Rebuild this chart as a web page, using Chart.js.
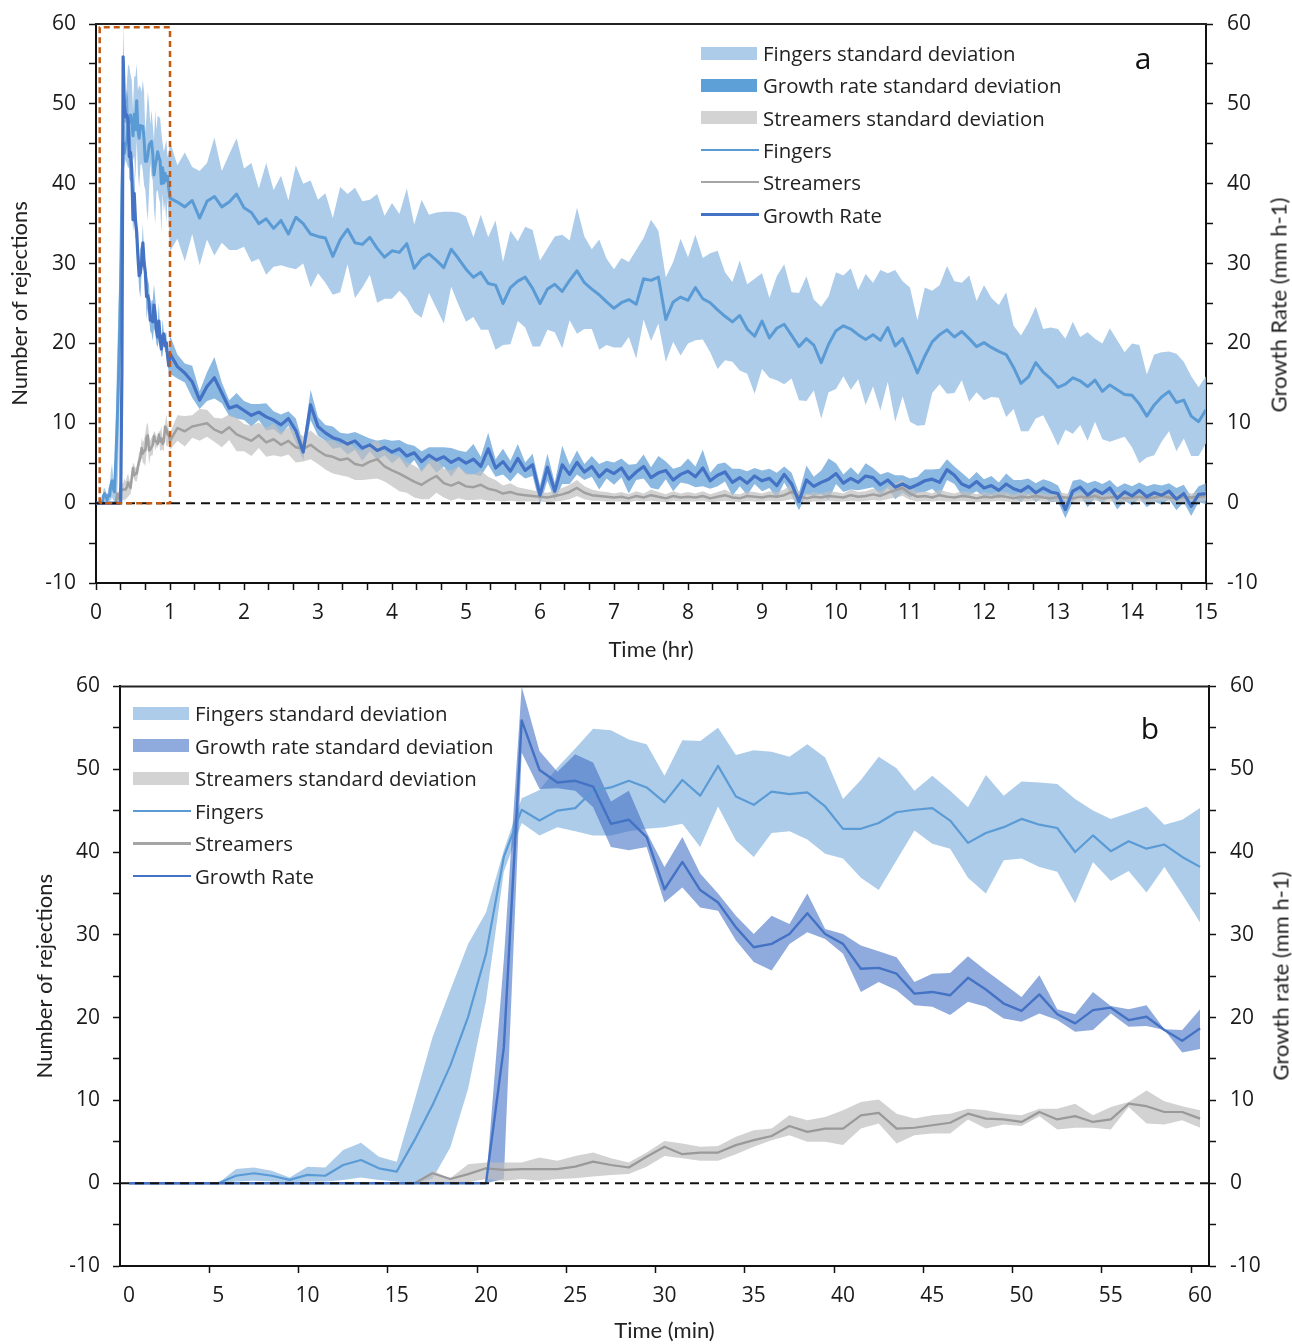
<!DOCTYPE html>
<html>
<head>
<meta charset="utf-8">
<script src="https://cdn.jsdelivr.net/npm/chart.js@4.4.1/dist/chart.umd.min.js"></script>
<style>
  body { margin: 0; background: #fff; overflow: hidden; }
  #wrap { position: relative; width: 1292px; height: 1344px; }
  .panel { position: absolute; left: 0; width: 1292px; }
  .leg { position: absolute; display: flex; align-items: center; transform: translateY(-50%);
         font-family: "Open Sans", sans-serif; font-size: 20.4px; line-height: 28px; color: #222; white-space: nowrap; }
  .sw { display: inline-block; margin-right: 6px; }
  .letter { position: absolute; font-family: "Open Sans", sans-serif; font-size: 30px; color: #111;
            transform: translate(-50%, -50%); }
  .rtitle { position: absolute; font-family: Lato, sans-serif; font-size: 22px; color: #222; white-space: nowrap;
            transform: translate(-50%, -50%) rotate(-90deg); }
</style>
</head>
<body>
<div id="wrap">
  <div class="panel" style="top:0;height:668px"><canvas id="chartA"></canvas></div>
  <div class="panel" style="top:664px;height:680px"><canvas id="chartB"></canvas></div>
  <div class="letter" style="left:1143px;top:57px">a</div>
  <div class="letter" style="left:1150px;top:727px">b</div>
  <div class="rtitle" style="left:1278px;top:305px">Growth Rate (mm h-1)</div>
  <div class="rtitle" style="left:1280px;top:976px">Growth rate (mm h-1)</div>
</div>
<script>
// ---------- panel b: first hour, one value per minute ----------
const minutesB = Array.from({length: 61}, (_, i) => i);

const fingersB = [
  0, 0, 0, 0, 0, 0, 0.9, 1.2, 0.9, 0.4,
  1.0, 0.9, 2.2, 2.8, 1.8, 1.4, 5.2, 9.4, 14.2, 20.1,
  27.7, 39.4, 45.1, 43.8, 45.0, 45.3, 47.4, 47.8, 48.6, 47.8,
  46.0, 48.7, 46.8, 50.4, 46.7, 45.7, 47.3, 47.0, 47.2, 45.5,
  42.8, 42.8, 43.5, 44.8, 45.1, 45.3, 43.8, 41.1, 42.3, 43.0,
  44.0, 43.3, 42.9, 40.0, 42.0, 40.1, 41.3, 40.4, 40.9, 39.4,
  38.2
];
const fingersLoB = [
  0, 0, 0, 0, 0, 0, 0.2, 0.3, 0.2, 0.1,
  0.2, 0.2, 0.4, 0.7, 0.4, 0.2, 0, 0.5, 4.3, 11.4,
  22.0, 37.6, 43.5, 42.0, 43.0, 42.5, 42.0, 42.0, 42.5, 42.8,
  43.0, 43.4, 40.6, 45.5, 41.4, 39.4, 42.3, 42.5, 41.5, 39.8,
  39.2, 36.9, 35.4, 39.0, 42.6, 41.0, 40.4, 36.9, 35.0, 39.0,
  39.2, 38.2, 37.6, 33.8, 38.8, 36.5, 37.7, 35.1, 38.2, 34.9,
  31.5
];
const fingersHiB = [
  0, 0, 0, 0, 0, 0, 1.7, 1.9, 1.5, 0.7,
  2.0, 1.9, 4.0, 4.9, 3.2, 2.6, 10.0, 17.6, 23.3, 28.9,
  32.7, 40.2, 46.5, 47.5, 50.2, 52.5, 54.9, 54.7, 53.6, 53.0,
  49.2, 53.5, 53.4, 55.0, 51.7, 52.3, 52.1, 51.5, 53.0, 51.4,
  46.4, 48.7, 51.5, 50.1, 47.4, 49.2, 47.4, 45.4, 49.3, 46.8,
  48.5, 48.4, 48.2, 46.4, 45.0, 44.0, 44.7, 45.5, 43.3, 43.9,
  45.3
];
const growthB = [
  0, 0, 0, 0, 0, 0, 0, 0, 0, 0,
  0, 0, 0, 0, 0, 0, 0, 0, 0, 0,
  0, 16.4, 55.9, 49.9, 48.4, 48.6, 47.9, 43.4, 43.9, 41.8,
  35.5, 38.8, 35.4, 33.9, 30.9, 28.5, 28.9, 30.1, 32.6, 30.1,
  28.9, 25.9, 26.0, 25.3, 22.9, 23.1, 22.7, 24.8, 23.4, 21.7,
  20.8, 22.8, 20.4, 19.3, 20.9, 21.2, 19.7, 20.1, 18.5, 17.2,
  18.7
];
const growthLoB = [
  0, 0, 0, 0, 0, 0, 0, 0, 0, 0,
  0, 0, 0, 0, 0, 0, 0, 0, 0, 0,
  0, 0.5, 52.0, 47.6, 47.7, 47.4, 45.4, 40.6, 40.2, 40.6,
  33.9, 35.7, 33.3, 32.9, 29.3, 26.7, 25.7, 28.9, 30.3, 29.5,
  27.7, 23.1, 24.3, 23.3, 21.5, 21.3, 20.3, 21.9, 21.3, 19.9,
  19.5, 20.5, 19.7, 18.3, 18.5, 20.5, 18.9, 19.0, 18.5, 15.8,
  16.2
];
const growthHiB = [
  0, 0, 0, 0, 0, 0, 0, 0, 0, 0,
  0, 0, 0, 0, 0, 0, 0, 0, 0, 0,
  0, 27.0, 60.0, 52.2, 49.7, 51.8, 50.8, 46.1, 47.4, 42.4,
  38.2, 41.8, 37.4, 35.0, 32.3, 30.1, 32.3, 31.3, 35.0, 30.7,
  30.1, 28.7, 28.0, 27.3, 24.3, 25.3, 25.4, 27.4, 25.7, 24.1,
  22.5, 25.1, 21.0, 20.4, 23.1, 21.4, 21.0, 21.5, 18.6, 18.5,
  21.0
];
const streamB = [
  0, 0, 0, 0, 0, 0, 0, 0, 0, 0,
  0, 0, 0, 0, 0, 0, 0, 1.2, 0.5, 1.1,
  1.8, 1.6, 1.7, 1.7, 1.7, 2.0, 2.6, 2.2, 1.9, 3.2,
  4.4, 3.5, 3.7, 3.7, 4.6, 5.2, 5.7, 6.9, 6.2, 6.6,
  6.6, 8.2, 8.5, 6.6, 6.7, 7.0, 7.3, 8.4, 7.8, 7.7,
  7.4, 8.6, 7.7, 8.1, 7.4, 7.7, 9.6, 9.3, 8.6, 8.6,
  7.8
];
const streamLoB = [
  0, 0, 0, 0, 0, 0, 0, 0, 0, 0,
  0, 0, 0, 0, 0, 0, 0, 0, 0, 0.1,
  0.5, 0.3, 0.5, 0.3, 0.5, 0.6, 0.8, 1.0, 1.1, 2.0,
  3.3, 3.0, 2.7, 2.7, 3.5, 4.4, 5.2, 5.8, 5.0, 5.0,
  4.6, 6.6, 7.2, 4.8, 5.8, 6.0, 6.0, 7.7, 6.6, 7.1,
  6.9, 8.1, 6.5, 6.7, 6.7, 6.5, 9.2, 7.2, 7.1, 7.6,
  6.7
];
const streamHiB = [
  0, 0, 0, 0, 0, 0, 0, 0, 0, 0,
  0, 0, 0, 0, 0, 0, 0, 1.5, 0.6, 2.3,
  2.5, 2.5, 2.5, 3.1, 2.7, 3.3, 3.7, 3.0, 2.5, 3.7,
  5.1, 4.8, 4.4, 4.5, 5.6, 6.4, 6.6, 8.2, 7.6, 8.0,
  8.8, 9.8, 10.1, 8.4, 7.8, 8.2, 8.4, 9.0, 8.8, 8.4,
  8.2, 9.0, 9.0, 9.6, 8.2, 9.2, 9.8, 11.2, 9.9, 9.3,
  8.8
];

// ---------- panel a: after the first hour, one value every 0.1 hr (1.1 .. 15.0) ----------
const hoursA = Array.from({length: 140}, (_, i) => (11 + i) / 10);

const fingersA = [
  37.7, 37.1, 37.9, 35.7, 37.8, 38.4, 37.1, 37.7, 38.7, 37.0,
  36.4, 35.0, 35.6, 34.4, 35.4, 33.7, 35.8, 35.0, 33.7, 33.4,
  33.2, 30.9, 33.0, 34.3, 32.6, 32.4, 33.3, 31.9, 30.8, 31.6,
  31.4, 32.5, 29.4, 30.6, 31.2, 30.4, 29.5, 31.8, 30.6, 29.3,
  28.3, 28.9, 27.5, 27.3, 25.0, 27.0, 27.8, 28.3, 26.9, 25.0,
  26.8, 27.4, 26.5, 27.9, 29.1, 27.6, 26.8, 26.1, 25.2, 24.4,
  25.1, 25.5, 24.9, 28.1, 27.9, 28.3, 23.0, 25.2, 25.8, 25.4,
  27.0, 25.6, 25.1, 24.2, 23.4, 22.7, 23.5, 21.8, 20.9, 22.8,
  20.7, 21.9, 22.4, 21.0, 19.6, 20.6, 19.8, 17.6, 19.9, 21.6,
  22.2, 21.8, 21.1, 20.5, 21.1, 20.4, 22.0, 19.7, 20.6, 18.6,
  16.3, 18.4, 20.2, 21.1, 21.7, 20.8, 21.5, 20.6, 19.6, 20.1,
  19.5, 19.0, 18.6, 17.0, 15.0, 15.8, 17.6, 16.4, 15.6, 14.5,
  14.9, 15.7, 15.3, 14.6, 15.4, 14.0, 14.8, 14.2, 13.6, 13.5,
  12.4, 10.9, 12.3, 13.3, 14.0, 12.6, 12.9, 10.9, 10.2, 11.7
];
const fingersSdA = [
  4.6, 6.8, 4.2, 5.9, 4.8, 7.4, 4.5, 6.0, 7.0, 4.9,
  6.2, 4.4, 7.0, 4.8, 5.6, 4.2, 6.5, 5.0, 6.7, 4.6,
  5.6, 4.8, 6.6, 4.4, 6.9, 5.4, 4.7, 6.8, 5.2, 6.0,
  4.8, 6.9, 5.5, 7.4, 4.9, 6.0, 7.0, 4.7, 5.8, 6.6,
  5.0, 7.2, 5.8, 8.1, 5.2, 7.1, 5.0, 6.3, 7.3, 5.4,
  5.1, 6.0, 7.1, 5.0, 7.9, 5.8, 5.0, 6.9, 5.4, 4.9,
  5.6, 4.7, 6.8, 5.1, 7.6, 5.8, 5.3, 5.0, 7.3, 5.4,
  6.6, 5.1, 6.2, 7.4, 5.5, 5.0, 6.9, 5.6, 7.2, 6.0,
  5.0, 6.5, 7.5, 5.4, 6.7, 7.8, 5.7, 7.0, 6.0, 7.3,
  6.3, 7.6, 5.6, 8.2, 6.5, 8.8, 6.8, 9.5, 7.2, 8.4,
  6.6, 8.6, 6.4, 6.2, 8.0, 7.0, 6.1, 7.9, 5.7, 7.2,
  6.2, 5.8, 7.8, 5.2, 6.0, 6.8, 7.0, 5.4, 6.4, 7.3,
  5.7, 7.0, 5.5, 6.8, 5.2, 6.0, 7.1, 6.2, 5.3, 6.5,
  7.4, 5.2, 6.3, 5.6, 5.0, 6.1, 4.8, 5.0, 4.3, 4.2
];
const growthA = [
  17.1, 16.3, 15.2, 12.9, 14.6, 15.7, 13.8, 11.9, 12.2, 11.6,
  11.0, 11.4, 10.8, 10.4, 9.8, 10.6, 9.1, 6.4, 12.3, 9.6,
  8.8, 8.2, 7.9, 7.4, 7.8, 6.9, 7.3, 6.6, 7.0, 6.4,
  6.8, 5.9, 6.3, 5.2, 6.0, 5.4, 5.8, 5.1, 5.6, 5.0,
  5.5, 4.6, 6.8, 4.4, 5.2, 4.0, 5.6, 4.1, 4.8, 1.0,
  4.5, 1.5, 4.8, 3.6, 5.1, 3.9, 4.6, 3.3, 4.2, 3.7,
  4.4, 3.0, 3.9, 4.6, 3.2, 3.8, 4.1, 2.9, 3.6, 4.0,
  3.3, 4.4, 2.8, 3.5, 3.9, 2.6, 3.2, 2.5, 3.4, 2.8,
  3.1, 2.2, 3.6, 2.4, 0.2, 2.9, 2.1, 2.6, 3.0, 3.7,
  2.5, 3.1, 2.6, 3.4, 3.2, 2.3, 2.9, 2.0, 2.4, 1.9,
  2.3, 2.8, 3.0, 2.6, 4.2, 3.5, 2.4, 2.0, 2.7, 1.9,
  2.2, 1.6, 2.4, 1.8, 1.5, 2.1, 1.3, 1.9, 1.4, 1.2,
  -0.8, 1.5, 2.0, 1.0, 1.7, 1.2, 1.9, 0.6, 1.4, 0.9,
  1.6, 0.8, 1.3, 1.0, 1.5, 0.5, 1.2, -0.4, 1.1, 1.2
];
const growthSdA = [
  1.5, 1.2, 2.0, 1.1, 1.8, 2.6, 1.3, 1.0, 1.6, 1.2,
  1.4, 1.0, 1.7, 1.1, 1.3, 0.9, 1.5, 1.0, 1.9, 1.2,
  1.0, 1.4, 0.9, 1.3, 1.1, 1.6, 0.8, 1.2, 1.0, 1.4,
  1.1, 1.5, 0.9, 1.3, 1.0, 1.6, 1.2, 1.8, 1.0, 1.4,
  1.9, 1.2, 2.0, 1.1, 1.6, 1.3, 1.8, 1.0, 1.4, 1.2,
  1.7, 1.1, 2.4, 1.2, 1.5, 1.0, 1.3, 1.6, 1.1, 1.4,
  1.2, 1.8, 1.0, 1.5, 1.3, 2.1, 1.1, 1.4, 1.0, 1.6,
  1.3, 2.3, 1.0, 1.4, 1.2, 1.7, 1.1, 1.5, 1.0, 1.3,
  1.2, 1.6, 1.0, 1.4, 1.1, 1.8, 1.2, 1.5, 2.6, 1.3,
  1.1, 1.4, 1.0, 1.6, 1.2, 1.3, 1.0, 1.5, 1.1, 1.2,
  1.0, 1.4, 1.2, 1.7, 1.3, 1.1, 1.4, 1.0, 1.2, 1.1,
  1.2, 1.0, 1.3, 1.1, 1.4, 1.0, 1.2, 1.1, 1.3, 1.0,
  1.1, 1.3, 1.0, 1.5, 1.1, 1.2, 1.0, 1.4, 1.1, 1.2,
  1.0, 1.3, 1.1, 1.2, 1.0, 1.4, 1.1, 1.2, 1.0, 1.3
];
const streamA = [
  9.4, 9.0, 9.6, 9.8, 10.0, 9.2, 8.8, 9.5, 8.6, 8.2,
  7.8, 8.5, 7.6, 8.0, 7.3, 7.8, 7.0, 6.8, 7.3, 6.6,
  6.0, 5.8, 5.4, 5.6, 4.9, 4.7, 5.2, 5.5, 4.6, 4.1,
  3.7, 3.2, 2.7, 2.3, 2.9, 3.4, 2.5, 2.2, 2.6, 2.1,
  2.0, 2.3, 1.8, 1.6, 1.2, 1.4, 1.1, 1.0, 0.9, 0.8,
  0.7, 0.9, 1.1, 1.4, 1.9, 1.3, 1.0, 0.9, 0.8, 0.7,
  0.8, 0.6, 0.9, 0.7, 1.0, 0.8, 0.6, 0.9, 0.7, 0.8,
  0.7, 0.9, 0.6, 0.8, 1.0, 0.7, 0.6, 0.9, 0.8, 0.7,
  0.9, 0.8, 1.0, 1.4, 0.9, 0.6, 0.8, 0.7, 0.9, 0.8,
  0.7, 1.0, 0.8, 0.9, 1.1, 0.9, 1.3, 1.6, 1.9, 1.2,
  0.8, 0.9, 0.7, 1.0, 0.8, 0.7, 0.9, 0.8, 0.6, 0.8,
  0.7, 0.9, 0.8, 0.6, 0.8, 0.7, 0.9, 0.7, 0.6, 0.8,
  0.7, 0.6, 0.8, 0.7, 0.9, 0.6, 0.7, 0.8, 0.6, 0.7,
  0.8, 0.6, 0.7, 0.9, 0.7, 0.6, 0.8, 0.7, 0.8, 0.9
];
const streamSdA = [
  1.6, 1.9, 1.4, 2.0, 1.7, 1.5, 1.8, 1.6, 2.1, 1.7,
  1.9, 1.6, 1.8, 2.0, 1.5, 1.7, 1.9, 1.6, 1.8, 1.7,
  1.8, 2.1, 1.9, 2.3, 2.0, 1.8, 2.2, 2.4, 1.9, 2.0,
  2.2, 1.9, 2.0, 1.8, 2.4, 2.1, 1.8, 1.9, 2.0, 1.7,
  1.6, 1.8, 1.5, 1.3, 1.0, 1.1, 0.9, 0.8, 0.7, 0.6,
  0.6, 0.7, 0.8, 0.9, 1.0, 0.8, 0.7, 0.6, 0.6, 0.5,
  0.6, 0.5, 0.6, 0.5, 0.7, 0.6, 0.5, 0.6, 0.5, 0.6,
  0.5, 0.6, 0.5, 0.6, 0.7, 0.5, 0.5, 0.6, 0.6, 0.5,
  0.6, 0.6, 0.7, 0.9, 0.6, 0.5, 0.6, 0.5, 0.6, 0.6,
  0.5, 0.7, 0.6, 0.6, 0.7, 0.6, 0.8, 0.9, 1.0, 0.8,
  0.6, 0.6, 0.5, 0.7, 0.6, 0.5, 0.6, 0.6, 0.5, 0.6,
  0.5, 0.6, 0.6, 0.5, 0.6, 0.5, 0.6, 0.5, 0.5, 0.6,
  0.5, 0.5, 0.6, 0.5, 0.6, 0.5, 0.5, 0.6, 0.5, 0.5,
  0.6, 0.5, 0.5, 0.6, 0.5, 0.5, 0.6, 0.5, 0.6, 0.6
];

// axis ticks and helper lines
const hourTicksA = Array.from({length: 46}, (_, i) => i / 3);
const minuteTicksB = [0, 4.5, 5, 9.5, 10, 14.5, 15, 19.5, 20, 24.5, 25, 29.5, 30,
                      34.5, 35, 39.5, 40, 44.5, 45, 49.5, 50, 54.5, 55, 59.5, 60];
const zeroLineA = {x: [0, 15], y: [0, 0]};
const zeroLineB = {x: [-0.5, 60.5], y: [0, 0]};
const zoomBoxA = {x: [0.05, 0.05, 1, 1, 0.05], y: [0, 59.6, 59.6, 0, 0]};

const legendA = [
  {text: 'Fingers standard deviation', kind: 'band', color: 'rgb(172,204,234)'},
  {text: 'Growth rate standard deviation', kind: 'band', color: 'rgb(93,160,216)'},
  {text: 'Streamers standard deviation', kind: 'band', color: 'rgb(211,211,211)'},
  {text: 'Fingers', kind: 'line', color: '#5B9BD5'},
  {text: 'Streamers', kind: 'line', color: '#A5A5A5'},
  {text: 'Growth Rate', kind: 'line', color: '#4472C4'}
];
const legendB = [
  {text: 'Fingers standard deviation', kind: 'band', color: 'rgb(172,204,234)'},
  {text: 'Growth rate standard deviation', kind: 'band', color: 'rgb(143,170,220)'},
  {text: 'Streamers standard deviation', kind: 'band', color: 'rgb(211,211,211)'},
  {text: 'Fingers', kind: 'line', color: '#5B9BD5'},
  {text: 'Streamers', kind: 'line', color: '#A5A5A5'},
  {text: 'Growth Rate', kind: 'line', color: '#4472C4'}
];

function pts(xs, ys) {
  return xs.map((x, i) => ({x: x, y: ys[i]}));
}

function bandSets(xs, lo, hi, color, order) {
  return [
    {data: pts(xs, lo), borderWidth: 0, pointRadius: 0, fill: false, order: order},
    {data: pts(xs, hi), borderWidth: 0, pointRadius: 0, fill: '-1', backgroundColor: color, order: order}
  ];
}

function lineSet(xs, ys, color, width, order, dash) {
  return {data: pts(xs, ys), borderColor: color, borderWidth: width, pointRadius: 0, fill: false,
          tension: 0, borderJoinStyle: 'round', borderDash: dash || [], order: order};
}

// top edge of the frame (left/bottom/right come from the axes)
const topFrame = {
  id: 'topFrame',
  beforeDatasetsDraw(chart) {
    const a = chart.chartArea, c = chart.ctx;
    c.save();
    c.strokeStyle = '#222';
    c.lineWidth = 2;
    c.beginPath();
    c.moveTo(a.left - 1, a.top);
    c.lineTo(a.right + 1, a.top);
    c.stroke();
    c.restore();
  }
};

function makeScales(o) {
  const tickFont = {family: 'Open Sans', size: 21};
  const yTickFont = {family: 'Open Sans', size: 21, lineHeight: 0.8};
  const titleFont = {family: 'Lato', size: 22};
  const yAxis = (pos, width, title, titlePad) => ({
    position: pos, min: -10, max: 60,
    afterFit: s => { s.width = width; },
    grid: {drawOnChartArea: false, tickLength: 7, tickColor: '#111', tickWidth: 1.5},
    border: {color: '#111', width: 2},
    ticks: {stepSize: 5, padding: pos === 'left' ? 13 : 14, font: yTickFont, color: '#1a1a1a',
            callback: v => (v % 10 === 0 ? v : '')},
    title: {display: !!title, text: title || '', font: titleFont, color: '#222',
            padding: {top: titlePad || 0, bottom: 0}}
  });
  return {
    x: {
      type: 'linear', min: o.xmin, max: o.xmax,
      afterBuildTicks: s => { s.ticks = o.xticks.map(v => ({value: v})); },
      afterFit: s => { s.height = o.xh; },
      grid: {drawOnChartArea: false, tickLength: 7, tickWidth: 1.5, tickColor: o.tickColor},
      border: {color: '#111', width: 2},
      ticks: {autoSkip: false, maxRotation: 0, padding: 10, font: tickFont, color: '#1a1a1a',
              callback: o.xlabel},
      title: {display: true, text: o.xtitle, font: titleFont, color: '#222',
              padding: {top: 0, bottom: o.xtitlePad}}
    },
    y: yAxis('left', o.yw, 'Number of rejections', o.ytitlePad),
    y2: yAxis('right', o.y2w)
  };
}

function drawLegend(items, left, top, gap) {
  const wrap = document.getElementById('wrap');
  items.forEach((it, i) => {
    const row = document.createElement('div');
    row.className = 'leg';
    row.style.left = left + 'px';
    row.style.top = (top + i * gap) + 'px';
    const sw = document.createElement('span');
    sw.className = 'sw';
    sw.style.width = it.kind === 'band' ? '56px' : '58px';
    sw.style.height = it.kind === 'band' ? '13px' : '2.5px';
    sw.style.marginRight = it.kind === 'band' ? '6px' : '4px';
    sw.style.background = it.color;
    row.appendChild(sw);
    const tx = document.createElement('span');
    tx.textContent = it.text;
    row.appendChild(tx);
    wrap.appendChild(row);
  });
}

window.onload = function () {
  // ----- panel a -----
  const hA = minutesB.map(m => m / 60).concat(hoursA);
  const fingA = fingersB.concat(fingersA);
  const fingLoA = fingersLoB.concat(fingersA.map((v, i) => v - fingersSdA[i]));
  const fingHiA = fingersHiB.concat(fingersA.map((v, i) => v + fingersSdA[i]));
  const growA = growthB.concat(growthA);
  const growLoA = growthLoB.concat(growthA.map((v, i) => v - growthSdA[i]));
  const growHiA = growthHiB.concat(growthA.map((v, i) => v + growthSdA[i]));
  const strA = streamB.concat(streamA);
  const strLoA = streamLoB.concat(streamA.map((v, i) => v - streamSdA[i]));
  const strHiA = streamHiB.concat(streamA.map((v, i) => v + streamSdA[i]));

  const box = lineSet(zoomBoxA.x, zoomBoxA.y, '#C55A11', 2.5, 0, [6, 4]);
  box.clip = false;

  new Chart(document.getElementById('chartA'), {
    type: 'line',
    data: {
      datasets: [
        ...bandSets(hA, fingLoA, fingHiA, 'rgba(157,195,230,0.85)', 12),
        ...bandSets(hA, growLoA, growHiA, 'rgba(91,155,213,0.7)', 11),
        ...bandSets(hA, strLoA, strHiA, 'rgba(191,191,191,0.7)', 10),
        lineSet(hA, strA, '#A0A0A0', 2.5, 5),
        lineSet(hA, fingA, '#5B9BD5', 3, 4),
        lineSet(hA, growA, '#4472C4', 3.2, 3),
        lineSet(zeroLineA.x, zeroLineA.y, '#111', 2, 1, [9, 6]),
        box
      ]
    },
    options: {
      responsive: true, maintainAspectRatio: false, animation: false,
      layout: {padding: {top: 24, left: 0, right: 0, bottom: 0}},
      plugins: {legend: {display: false}, tooltip: {enabled: false}},
      scales: makeScales({
        xmin: 0, xmax: 15, xticks: hourTicksA, xh: 85, xtitle: 'Time (hr)', xtitlePad: 5,
        xlabel: v => (Number.isInteger(v) ? v : ''), tickColor: '#111',
        yw: 96, y2w: 86, ytitlePad: 7
      })
    },
    plugins: [topFrame]
  });

  // ----- panel b -----
  new Chart(document.getElementById('chartB'), {
    type: 'line',
    data: {
      datasets: [
        ...bandSets(minutesB, fingersLoB, fingersHiB, 'rgba(157,195,230,0.85)', 12),
        ...bandSets(minutesB, growthLoB, growthHiB, 'rgba(68,114,196,0.6)', 11),
        ...bandSets(minutesB, streamLoB, streamHiB, 'rgba(191,191,191,0.7)', 10),
        lineSet(minutesB, streamB, '#999999', 2.2, 5),
        lineSet(minutesB, fingersB, '#5B9BD5', 2.2, 4),
        lineSet(minutesB, growthB, '#4472C4', 2.4, 3),
        lineSet(zeroLineB.x, zeroLineB.y, '#111', 2, 1, [9, 6])
      ]
    },
    options: {
      responsive: true, maintainAspectRatio: false, animation: false,
      layout: {padding: {top: 18, left: 0, right: 0, bottom: 0}},
      plugins: {legend: {display: false}, tooltip: {enabled: false}},
      scales: makeScales({
        xmin: -0.5, xmax: 60.5, xticks: minuteTicksB, xh: 78, xtitle: 'Time (min)', xtitlePad: 0,
        xlabel: v => (Number.isInteger(v) ? v : ''),
        tickColor: ctx => (ctx.tick && Number.isInteger(ctx.tick.value) ? 'rgba(0,0,0,0)' : '#111'),
        yw: 120, y2w: 83, ytitlePad: 32
      })
    },
    plugins: [topFrame]
  });

  drawLegend(legendA, 701, 53, 32.3);
  drawLegend(legendB, 133, 713, 32.6);
};
</script>
</body>
</html>
